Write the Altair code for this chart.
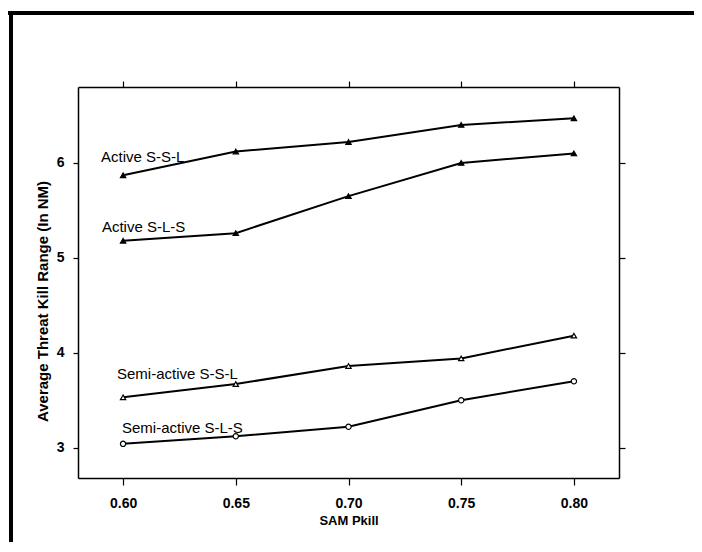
import altair as alt
import pandas as pd

pkill = [0.60, 0.65, 0.70, 0.75, 0.80]
series_names = ["Active S-S-L", "Active S-L-S", "Semi-active S-S-L", "Semi-active S-L-S"]
active_ssl = [5.87, 6.12, 6.22, 6.40, 6.47]
active_sls = [5.18, 5.26, 5.65, 6.00, 6.10]
semi_ssl = [3.53, 3.67, 3.86, 3.94, 4.18]
semi_sls = [3.04, 3.12, 3.22, 3.50, 3.70]
label_x = [0.5902, 0.5906, 0.5973, 0.5995]
label_y = [6.06, 5.32, 3.78, 3.21]
x_ticks = [0.60, 0.65, 0.70, 0.75, 0.80]
y_ticks = [3, 4, 5, 6]

rows = []
for name, vals in zip(series_names, [active_ssl, active_sls, semi_ssl, semi_sls]):
    for xv, yv in zip(pkill, vals):
        rows.append({"series": name, "pkill": xv, "range": yv})
df = pd.DataFrame(rows)
labels = pd.DataFrame({"series": series_names, "lx": label_x, "ly": label_y})

FONT = "Liberation Sans"
xscale = alt.Scale(domain=[0.58, 0.82], nice=False, zero=False)
yscale = alt.Scale(domain=[2.68, 6.8], nice=False, zero=False)

x_bottom = alt.X("pkill:Q", scale=xscale, axis=alt.Axis(
    orient="bottom", values=x_ticks, format=".2f", title="SAM Pkill",
    grid=False, tickSize=7, labelPadding=11, titleX=270.5, titleY=42,
    titleBaseline="middle", titleAlign="center", titleFontSize=13))
y_left = alt.Y("range:Q", scale=yscale, axis=alt.Axis(
    orient="left", values=y_ticks, format="d",
    title="Average Threat Kill Range (In NM)", grid=False, tickSize=5,
    labelPadding=9, titleX=-36, titleY=214, titleAngle=270,
    titleBaseline="middle", titleAlign="center", titleFontSize=15))

lines = alt.Chart(df).mark_line(color="black").encode(
    x=x_bottom, y=y_left,
    detail="series:N",
    strokeWidth=alt.StrokeWidth("series:N", scale=alt.Scale(domain=series_names, range=[2, 2, 1.5, 1.5]), legend=None),
)

points = alt.Chart(df).mark_point(size=28, filled=False, opacity=1, strokeWidth=1.2, color="black").encode(
    x=alt.X("pkill:Q", scale=xscale, axis=alt.Axis(orient="top", values=x_ticks, labels=False, title=None, grid=False, tickSize=6)),
    y=alt.Y("range:Q", scale=yscale, axis=alt.Axis(orient="right", values=y_ticks, labels=False, title=None, grid=False, tickSize=6)),
    shape=alt.Shape("series:N", scale=alt.Scale(domain=series_names, range=["triangle-up", "triangle-up", "triangle-up", "circle"]), legend=None),
    fill=alt.Fill("series:N", scale=alt.Scale(domain=series_names, range=["black", "black", "white", "white"]), legend=None),
)

texts = alt.Chart(labels).mark_text(align="left", baseline="middle", font=FONT, fontSize=15, color="black").encode(
    x=alt.X("lx:Q", scale=xscale, axis=None),
    y=alt.Y("ly:Q", scale=yscale, axis=None),
    text="series:N",
)

frame_top = alt.Chart(df).mark_rule(color="black", strokeWidth=3).encode(
    x=alt.value(-70), x2=alt.value(630), y=alt.value(-74))
frame_left = alt.Chart(df).mark_rule(color="black", strokeWidth=3).encode(
    x=alt.value(-67), y=alt.value(-75), y2=alt.value(470))
frame_bottom = alt.Chart(df).mark_rule(color="#888888", strokeWidth=1.5).encode(
    x=alt.value(447), x2=alt.value(630), y=alt.value(462))

chart = alt.layer(frame_top, frame_left, frame_bottom, lines, points, texts).resolve_axis(
    x="independent", y="independent"
).properties(
    width=541, height=391,
    autosize=alt.AutoSizeParams(type="none"),
    padding={"left": 70, "top": 79, "right": 75, "bottom": 64},
).configure_view(stroke=None).configure_axis(
    labelFont=FONT, titleFont=FONT, labelFontSize=14, labelFontWeight="bold",
    titleFontWeight="bold", labelColor="black", titleColor="black",
    domainColor="black", tickColor="black", domainWidth=1.5, tickWidth=1.2,
)

chart.save("out.html", embed_options={"renderer": "svg", "actions": False})
